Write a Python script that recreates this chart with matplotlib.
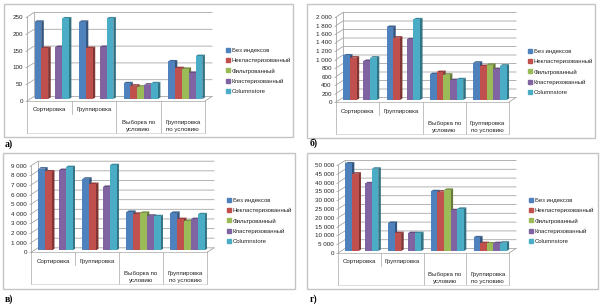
import numpy as np
import matplotlib
matplotlib.use('Agg')
import matplotlib.pyplot as plt
from matplotlib.patches import Patch, Rectangle
from matplotlib.colors import to_rgb

W, H = 600, 305

series = ['Без индексов', 'Некластеризованный', 'Фильтрованный', 'Кластеризованный', 'Columnstore']
categories = ['Сортировка', 'Группировка', 'Выборка по\nусловию', 'Группировка\nпо условию']
colors = ['#4F81BD', '#C0504D', '#9BBB59', '#8064A2', '#4BACC6']

# rows = categories, columns = series, 0 = no bar
values_a = [[230, 152, 0, 155, 240], [230, 152, 0, 155, 240],
            [47, 40, 37, 43, 47], [112, 92, 90, 78, 128]]
values_b = [[1050, 1000, 0, 920, 1000], [1720, 1470, 0, 1430, 1900],
            [610, 660, 600, 470, 490], [880, 800, 830, 730, 810]]
values_c = [[8500, 8200, 0, 8350, 8650], [7450, 6900, 0, 6600, 8850],
            [4000, 3800, 3900, 3600, 3550], [3900, 3250, 3050, 3250, 3750]]
values_d = [[49800, 44000, 0, 38500, 46800], [16000, 10200, 0, 10200, 10200],
            [34000, 33800, 34800, 23200, 24000], [7800, 4500, 4300, 4500, 4800]]

ticks_a = [0, 50, 100, 150, 200, 250]
ticks_b = [0, 200, 400, 600, 800, 1000, 1200, 1400, 1600, 1800, 2000]
ticks_c = [0, 1000, 2000, 3000, 4000, 5000, 6000, 7000, 8000, 9000]
ticks_d = [0, 5000, 10000, 15000, 20000, 25000, 30000, 35000, 40000, 45000, 50000]

fig = plt.figure(figsize=(W / 100, H / 100), dpi=100)
plt.rcParams['font.family'] = ['Liberation Sans', 'DejaVu Sans']


def darker(c, k):
    return tuple(v * k for v in to_rgb(c))


def panel(vals, ticks, frame, x0, x1, y0, ytop, table_bottom, leg_x, leg_y, letter, letter_pos):
    # frame around the chart
    fig.add_artist(Rectangle((frame[0] / W, 1 - frame[3] / H), (frame[2] - frame[0]) / W,
                             (frame[3] - frame[1]) / H, transform=fig.transFigure,
                             fc='white', ec='#C4C4C4', lw=1.0, zorder=-5))
    ax = fig.add_axes([x0 / W, 1 - y0 / H, (x1 - x0) / W, (y0 - ytop) / H])
    ax.patch.set_visible(False)
    ymax = ticks[-1]
    ax.set_xlim(0, 4)
    ax.set_ylim(0, ymax)
    px = 4 / (x1 - x0)
    py = ymax / (y0 - ytop)
    dx, dy = 7 * px, 4.5 * py  # depth of the walls

    # walls
    grid = '#A6A6A6'
    for t in ticks:
        ax.plot([0, dx, 4 + dx], [t, t + dy, t + dy], color=grid, lw=0.6, clip_on=False, zorder=1)
    ax.plot([dx, dx], [dy, ymax + dy], color=grid, lw=0.6, clip_on=False, zorder=1)
    ax.plot([0, 0], [0, ymax], color=grid, lw=0.6, clip_on=False, zorder=1)
    ax.plot([4, 4 + dx], [0, dy], color=grid, lw=0.6, clip_on=False, zorder=1)

    # bars
    bw = 0.155
    bdx, bdy = 2.4 * px, 1.4 * py
    base = 2.0 * py
    shift = 2.5 * px
    z = 2
    for i, row in enumerate(vals):
        left = i + (1 - 5 * bw) / 2 + shift
        for j, v in enumerate(row):
            if v == 0:
                continue
            xl = left + j * bw
            xr = xl + bw
            top = v + base
            ax.fill([xr - 0.2 * px, xr + bdx, xr + bdx, xr - 0.2 * px], [base, base + bdy, top + bdy, top],
                    color=darker(colors[j], 0.66), lw=0, clip_on=False, zorder=z)
            ax.fill([xl, xl + bdx, xr + bdx, xr], [top - 0.2 * py, top + bdy, top + bdy, top - 0.2 * py],
                    color=darker(colors[j], 0.78), lw=0, clip_on=False, zorder=z)
            ax.bar(xl + bw / 2, v, bw, bottom=base, color=colors[j], lw=0, clip_on=False, zorder=z + 1)
            z += 2

    ax.set_xticks([])
    ax.set_yticks(ticks)
    ax.set_yticklabels([('%d' % t) if t < 1000 else ('%d %03d' % (t // 1000, t % 1000)) for t in ticks])
    ax.tick_params(axis='y', labelsize=4.5, length=1.5, width=0.5, color=grid, pad=1.5, labelcolor='#222222')
    for s in ax.spines.values():
        s.set_visible(False)

    # category table under the axis
    tb = (y0 - table_bottom) * py
    ax.plot([0, 4], [0, 0], color=grid, lw=0.5, clip_on=False, zorder=1)
    for k in [0, 2, 3, 4]:
        ax.plot([k, k], [0, tb], color=grid, lw=0.5, clip_on=False)
    ax.plot([1, 1], [0, -13 * py], color=grid, lw=0.5, clip_on=False)
    ax.plot([0, 4], [tb, tb], color='#D0D0D0', lw=0.5, clip_on=False)
    for k, c in enumerate(categories):
        if '\n' in c:
            ax.text(k + 0.5, -25 * py, c, ha='center', va='center', fontsize=4.4, linespacing=1.45, color='#222222')
        else:
            ax.text(k + 0.5, -9 * py, c, ha='center', va='center', fontsize=4.4, color='#222222')

    handles = [Patch(color=c) for c in colors]
    ax.legend(handles, series, loc='center left', bbox_to_anchor=(leg_x / W, 1 - leg_y / H),
              bbox_transform=fig.transFigure, frameon=False, fontsize=4.35, labelspacing=0.87,
              handlelength=0.65, handleheight=0.65, handletextpad=0.3, borderaxespad=0, borderpad=0,
              labelcolor='#222222')

    fig.text(letter_pos[0] / W, 1 - letter_pos[1] / H, letter, fontsize=7, fontweight='bold',
             family=['Liberation Serif', 'DejaVu Serif'], ha='left', va='center')


panel(values_a, ticks_a, (4, 4, 293, 137), 27, 205, 101, 17, 133, 226, 71, 'а)', (5, 144))
panel(values_b, ticks_b, (307, 4, 595, 138), 336, 509, 102, 17, 134, 528, 72, 'б)', (310, 143))
panel(values_c, ticks_c, (3, 153, 295, 289), 31, 207, 252.3, 165.7, 284, 227, 221, 'в)', (5, 299))
panel(values_d, ticks_d, (307, 153, 598, 289), 338, 509, 253, 165, 285, 529, 221, 'г)', (310, 299))

fig.savefig('out.png', dpi=100)
